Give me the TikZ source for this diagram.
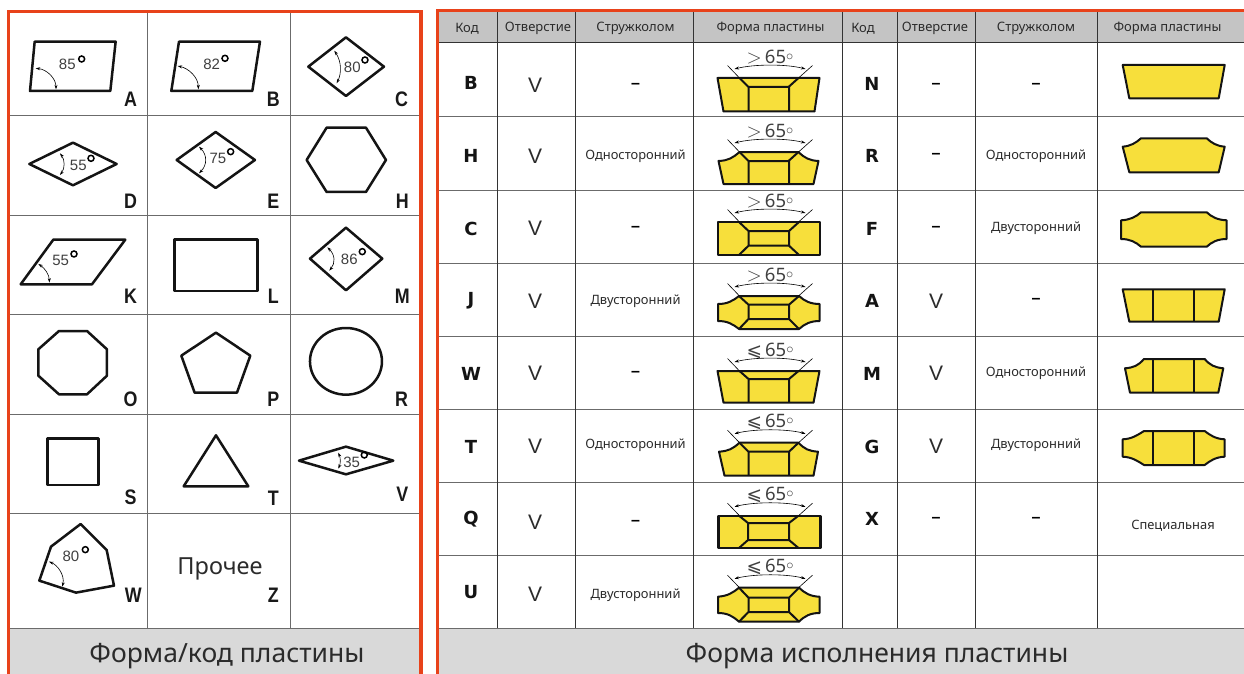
\documentclass[tikz,border=0pt]{standalone}
\usepackage{fontspec}
\setmainfont{Noto Sans}
\newfontfamily\dejav{DejaVu Sans}
\newfontfamily\lib{Liberation Sans}
\usetikzlibrary{arrows.meta}
\definecolor{orangeb}{HTML}{E8421A}
\definecolor{yel}{HTML}{F7DF3B}
\definecolor{hd}{HTML}{C4C4C4}
\definecolor{ft}{HTML}{D9D9D9}
\definecolor{tx}{HTML}{2B2B2B}
\tikzset{
  fig/.style={draw=black!92,line width=2.5pt,line join=round,line cap=round},
  arcm/.style={draw=black,line width=0.6pt,{Stealth[length=4.5pt,width=3pt]}-{Stealth[length=4.5pt,width=3pt]}},
  ring/.style={draw=black,line width=1.5pt},
  code/.style={font=\lib\bfseries\fontsize{21}{21}\selectfont,xscale=.85,text=black!90,inner sep=0pt},
  num/.style={font=\lib\fontsize{15}{15}\selectfont,text=black!75,inner sep=0pt},
  gridl/.style={draw=black!58,line width=1pt},
  gridk/.style={draw=black!80,line width=1pt},
  hdr/.style={font=\fontsize{13}{14}\selectfont,text=tx,inner sep=0pt},
  cellt/.style={font=\fontsize{12.9}{14}\selectfont,text=tx,inner sep=0pt},
  bcode/.style={font=\dejav\bfseries\fontsize{18}{18}\selectfont,text=black!92,inner sep=0pt},
  vmark/.style={font=\fontsize{21}{21}\selectfont\lib,text=tx,inner sep=0pt},
  dashm/.style={font=\lib\bfseries\fontsize{16}{16}\selectfont,text=black,inner sep=0pt},
  ttl/.style={font=\fontsize{26.5}{27}\selectfont,text=tx,inner sep=0pt},
  ins/.style={draw=black!92,fill=yel,line width=2pt,line join=round},
  insl/.style={draw=black!92,line width=2pt,line cap=butt,line join=round},
  thinl/.style={draw=black,line width=0.6pt},
  anglab/.style={font=\fontsize{18.5}{19}\selectfont,text=black!75,inner sep=0pt},
}
% angle mark above an insert: #1 top edge, #2 label sign
\newcommand\angmark[3]{%
  \draw[thinl] (-41,#1-12.5) -- (-29,#1);
  \draw[thinl] (44,#1-12.5) -- (30,#1);
  \draw[arcm] (-34,#1-9) .. controls (-14,#1-14) and (18,#1-14) .. (37,#1-9);
  \node[anglab] (#3) at (1.5,#1-20.5) {#2\,65\raisebox{3pt}{\fontsize{15}{15}\selectfont$\circ$}};
}
\newcommand\gtsym{\scalebox{1.15}{$>$}}
\newcommand\lesym{{\dejav ⩽}}
\begin{document}
\begin{tikzpicture}[x=1pt,y=-1pt]
\useasboundingbox (0,0) rectangle (1244,674);
\fill[white] (0,0) rectangle (1244,674);
% ---------- left panel
\fill[ft] (9,628) rectangle (420,674);
\foreach \yy in {115.5,215,314.5,414,513,628} \draw[gridl] (9,\yy) -- (420,\yy);
\foreach \xx in {147.5,290} \draw[gridl] (\xx,11) -- (\xx,628);
\draw[orangeb,line width=3.2pt] (8.5,674) -- (8.5,11.5) -- (421,11.5) -- (421,674);
\node[ttl] (titleL) at (227,656) {Форма/код пластины};
\begin{scope}[x=.3333pt,y=-.3333pt]
\draw[fig] (104,125)--(347,125)--(331,273)--(90,273)--cycle;
\draw[arcm] (107,205) .. controls (140,208) and (168,235) .. (168,268);
\node[num] (nA) at (202,193) {85}; \draw[ring] (245,177) circle (3pt);
\node[code] (cA) at (392,298) {A};
\draw[fig] (537,125)--(780,125)--(757,273)--(514,273)--cycle;
\draw[arcm] (533,198) .. controls (566,205) and (595,232) .. (595,268);
\node[num] (nB) at (635,193) {82}; \draw[ring] (675,175) circle (3pt);
\node[code] (cB) at (820,298) {B};
\draw[fig] (1038,112)--(1152,200)--(1038,288)--(925,200)--cycle;
\draw[arcm] (1003,152) .. controls (1025,185) and (1025,220) .. (1010,250);
\node[num] (nC) at (1057,203) {80}; \draw[ring] (1095,180) circle (3pt);
\node[code] (cC) at (1205,298) {C};
\draw[fig] (88,492)--(219,428)--(350,492)--(219,556)--cycle;
\draw[arcm] (180,460) .. controls (195,480) and (195,505) .. (180,525);
\node[num] (nD) at (235,495) {55}; \draw[ring] (273,475) circle (3pt);
\node[code] (cD) at (392,603) {D};
\draw[fig] (530,480)--(647,396)--(765,480)--(647,564)--cycle;
\draw[arcm] (597,440) .. controls (622,465) and (622,495) .. (597,520);
\node[num] (nE) at (654,475) {75}; \draw[ring] (692,455) circle (3pt);
\node[code] (cE) at (820,603) {E};
\draw[fig] (920,480)--(980,383)--(1098,383)--(1158,480)--(1098,576)--(980,576)--cycle;
\node[code] (cH) at (1207,603) {H};
\draw[fig] (62,853)--(160,719)--(376,719)--(276,853)--cycle;
\draw[arcm] (115,792) .. controls (135,805) and (148,825) .. (148,848);
\node[num] (nK) at (182,780) {55}; \draw[ring] (222,762) circle (3pt);
\node[code] (cK) at (392,890) {K};
\draw[fig] (523,719) rectangle (772,873);
\node[code] (cL) at (820,890) {L};
\draw[fig] (930,776)--(1038,683)--(1147,776)--(1038,871)--cycle;
\draw[arcm] (982,742) .. controls (1006,765) and (1006,790) .. (988,812);
\node[num] (nM) at (1048,777) {86}; \draw[ring] (1087,755) circle (3pt);
\node[code] (cM) at (1207,890) {M};
\end{scope}
\begin{scope}[x=.3333pt,y=-.3333pt,yshift=-310pt]
\draw[fig] (115,118)--(177,63)--(261,63)--(321,118)--(321,197)--(261,253)--(177,253)--(115,197)--cycle;
\node[code] (cO) at (392,267) {O};
\draw[fig] (648,68)--(751,137)--(711,248)--(584,248)--(544,137)--cycle;
\node[code] (cP) at (820,267) {P};
\draw[fig] (1038,154) ellipse [x radius=108,y radius=100];
\node[code] (cR) at (1205,267) {R};
\draw[fig] (143,385) rectangle (295,525);
\node[code] (cS) at (392,562) {S};
\draw[fig] (648,376)--(745,529)--(551,529)--cycle;
\node[code] (cT) at (820,564) {T};
\draw[fig] (897,452)--(1038,410)--(1180,452)--(1038,493)--cycle;
\draw[arcm] (1015,428) .. controls (1022,445) and (1022,460) .. (1015,476);
\node[num] (nV) at (1055,458) {35}; \draw[ring] (1093,435) circle (3pt);
\node[code] (cV) at (1207,553) {V};
\draw[fig] (242,642)--(320,720)--(342,827)--(228,848)--(118,812)--(153,710)--cycle;
\draw[arcm] (147,755) .. controls (172,765) and (195,795) .. (187,830);
\node[num] (nW) at (213,740) {80}; \draw[ring] (256,719) circle (3pt);
\node[code] (cW) at (400,856) {W};
\node[font=\fontsize{23.5}{24}\selectfont,text=tx,inner sep=0pt] (other) at (660,778) {Прочее};
\node[code] (cZ) at (820,856) {Z};
\end{scope}
% ---------- right panel
\fill[hd] (438,12) rectangle (1244,43);
\fill[ft] (438,628) rectangle (1244,674);
\foreach \yy in {117,190,263,336,409,482,555,628} \draw[gridl] (438,\yy) -- (1244,\yy);
\draw[gridk] (438,43) -- (1244,43);
\foreach \xx in {497,575.5,693.5,842,897,975.5,1097.5} \draw[gridk] (\xx,12) -- (\xx,628);
\draw[orangeb,line width=3pt] (437.5,674) -- (437.5,11) -- (1244,11);
% headers
\foreach \nm/\xx/\tt in {h1/467/Код,h2/538/Отверстие,h3/635.5/Стружколом,h4/770.5/Форма пластины,h5/863/Код,h6/935/Отверстие,h7/1036/Стружколом,h8/1167.5/Форма пластины}
  \node[hdr] (\nm) at (\xx,28.5) {\tt};
% codes
\foreach \cc/\yy in {B/83,H/156,C/229,J/301,W/374,T/447,Q/519,U/592} \node[bcode] (l\cc) at (471,\yy) {\cc};
\foreach \cc/\yy in {N/84,R/156,F/229,A/301,M/374,G/447,X/519} \node[bcode] (r\cc) at (872,\yy) {\cc};
\foreach \yy in {85,156,228,301,373,446,522,594} \node[vmark] (v\yy) at (535,\yy) {V};
\foreach \yy in {301,373,446} \node[vmark] (w\yy) at (936,\yy) {V};
\foreach \xx/\yy in {635.5/85,635.5/228,635.5/373,635.5/522,936/85,936/155,936/228,936/519,1036/85,1036/300,1036/519} \node[dashm] (d\xx-\yy) at (\xx,\yy+1) {–};
\foreach \xx/\yy/\tt in {635.5/155/Односторонний,635.5/300/Двусторонний,635.5/444/Односторонний,635.5/594/Двусторонний,1036/155/Односторонний,1036/227/Двусторонний,1036/372/Односторонний,1036/444/Двусторонний,1173/525/Специальная}
  \node[cellt] (t\xx-\yy) at (\xx,\yy+1) {\tt};
% inserts, left column
\begin{scope}[shift={(768.5,43)}]
\draw[ins] (-51,35)--(51,35)--(46,68.5)--(-45,68.5)--cycle;
\draw[insl] (-29,35)--(-20,44)--(20,44)--(30,35) (-20,44)--(-20,68.5) (20.5,44)--(20.5,68.5);
\angmark{35}{\gtsym}{aB}
\end{scope}
\begin{scope}[shift={(768.5,117)}]
\draw[ins] (-50,44) .. controls (-40,43.5) and (-36,41) .. (-29,35)--(30,35) .. controls (36,41) and (41,43.5) .. (50,44)--(45,67)--(-45,67)--cycle;
\draw[insl] (-29,35)--(-20,44)--(20,44)--(30,35) (-20,44)--(-20,67) (20.5,44)--(20.5,67);
\angmark{35}{\gtsym}{aH}
\end{scope}
\begin{scope}[shift={(768.5,190)}]
\draw[ins] (-50.5,32) rectangle (51,65);
\draw[insl] (-29.5,32)--(-20,41)--(20.5,41)--(30.5,32) (-29.5,65)--(-20,55.7)--(20.5,55.7)--(30.5,65) (-20,41)--(-20,55.7) (20.5,41)--(20.5,55.7);
\angmark{32}{\gtsym}{aC}
\end{scope}
\begin{scope}[shift={(768.5,263)}]
\draw[ins] (-50.5,41) .. controls (-41,41) and (-36,38) .. (-29.5,33)--(30.5,33) .. controls (36,38) and (42,41) .. (51,41)--(51,58) .. controls (42,58) and (36,61) .. (30.5,66)--(-29.5,66) .. controls (-36,61) and (-41,58) .. (-50.5,58)--cycle;
\draw[insl] (-29.5,33)--(-20,41.7)--(20.5,41.7)--(30.5,33) (-29.5,66)--(-20,56)--(20.5,56)--(30.5,66) (-20,41.7)--(-20,56) (20.5,41.7)--(20.5,56);
\angmark{33}{\gtsym}{aJ}
\end{scope}
\begin{scope}[shift={(768.5,336)}]
\draw[ins] (-51,35)--(51,35)--(45,66.7)--(-45,66.7)--cycle;
\draw[insl] (-29,35)--(-20,43)--(20.5,43)--(30,35) (-20,43)--(-20,66.7) (20.5,43)--(20.5,66.7);
\angmark{35}{\lesym}{aW}
\end{scope}
\begin{scope}[shift={(768.5,409)}]
\draw[ins] (-49.5,42.7) .. controls (-40,42) and (-36,40) .. (-29,33.7)--(30,33.7) .. controls (36,40) and (40,42) .. (49.5,42.7)--(45,66.7)--(-44,66.7)--cycle;
\draw[insl] (-29,33.7)--(-20,42.7)--(20.5,42.7)--(30,33.7) (-20,42.7)--(-20,66.7) (20.5,42.7)--(20.5,66.7);
\angmark{33.7}{\lesym}{aT}
\end{scope}
\begin{scope}[shift={(768.5,482)}]
\draw[ins,line width=2.4pt] (-50,33.7) rectangle (52,66);
\draw[insl] (-29.5,33.7)--(-20.5,41)--(20.5,41)--(30,33.7) (-29.5,66)--(-20.5,58)--(20.5,58)--(30,66) (-20.5,41)--(-20.5,58) (20.5,41)--(20.5,58);
\angmark{33.7}{\lesym}{aQ}
\end{scope}
\begin{scope}[shift={(768.5,555)}]
\draw[ins] (-50.5,41.7) .. controls (-41,41) and (-36,38) .. (-29.5,32.7)--(30.5,32.7) .. controls (36,38) and (42,41.5) .. (51,41.7)--(51,58) .. controls (42,58) and (36,61) .. (30.5,66.7)--(-29.5,66.7) .. controls (-36,61) and (-41,58) .. (-50.5,58)--cycle;
\draw[insl] (-29.5,32.7)--(-20,42.7)--(20.5,42.7)--(30.5,32.7) (-29.5,66.7)--(-20,57)--(20.5,57)--(30.5,66.7) (-20,42.7)--(-20,57) (20.5,42.7)--(20.5,57);
\angmark{32.7}{\lesym}{aU}
\end{scope}
% inserts, right column
\begin{scope}[shift={(1173.7,43)}]
\draw[ins] (-51,22)--(51,22)--(45,55.3)--(-44.4,55.3)--cycle;
\end{scope}
\begin{scope}[shift={(1173.7,117)}]
\draw[ins] (-51,29.7) .. controls (-43,29) and (-38,26) .. (-32.7,21.3)--(33,21.3) .. controls (38,26) and (43,29) .. (51,29.7)--(45,55.3)--(-44.4,55.3)--cycle;
\end{scope}
\begin{scope}[shift={(1173.7,190)}]
\draw[ins] (-52.7,30.3) .. controls (-44,30) and (-38,27) .. (-32.7,22.3)--(33,22.3) .. controls (38,27) and (44,30) .. (53,30.3)--(53,49) .. controls (44,49) and (38,52) .. (33,56.7)--(-32.7,56.7) .. controls (-38,52) and (-44,49) .. (-52.7,49)--cycle;
\end{scope}
\begin{scope}[shift={(1173.7,263)}]
\draw[ins] (-51,26.3)--(51,26.3)--(45,58.7)--(-44.4,58.7)--cycle;
\draw[insl] (-20.4,26.3)--(-20.4,58.7) (20.6,26.3)--(20.6,58.7);
\end{scope}
\begin{scope}[shift={(1173.7,336)}]
\draw[ins] (-48.7,32.3) .. controls (-40,31.5) and (-36,30) .. (-29.7,23)--(31,23) .. controls (36,29) and (41,31.5) .. (49.6,32.3)--(44.6,56.7)--(-43.7,56.7)--cycle;
\draw[insl] (-20.4,23)--(-20.4,56.7) (20.6,23)--(20.6,56.7);
\end{scope}
\begin{scope}[shift={(1173.7,409)}]
\draw[ins] (-51,30.3) .. controls (-42,30) and (-36,26) .. (-29.7,22)--(31,22) .. controls (36,26) and (42,30) .. (51,30.3)--(51,47.7) .. controls (42,48) and (36,52) .. (31,56)--(-29.7,56) .. controls (-36,52) and (-42,48) .. (-51,47.7)--cycle;
\draw[insl] (-20.4,22)--(-20.4,56) (20.6,22)--(20.6,56);
\end{scope}
\node[ttl] (titleR) at (877,656) {Форма исполнения пластины};
\end{tikzpicture}
\end{document}
